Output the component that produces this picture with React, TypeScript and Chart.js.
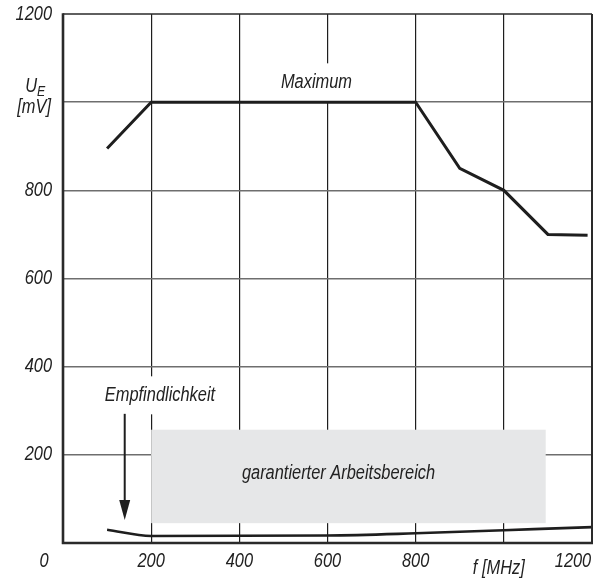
import React, { useEffect, useRef } from "react";
import { Chart, registerables } from "chart.js";

Chart.register(...registerables);

// ---- data ----
const maxX = [100, 200, 800, 900, 1000, 1100, 1190];
const maxY = [895, 1000, 1000, 850, 800, 700, 698];
const sensX = [100, 200, 600, 800, 1000, 1200];
const sensY = [30, 16, 17, 22, 29, 36];

const xTickValues = [0, 200, 400, 600, 800, 1000, 1200];
const xTickLabels = ["0", "200", "400", "600", "800", "f [MHz]", "1200"];
const yTickValues = [200, 400, 600, 800, 1000, 1200];
const yTickLabels = ["200", "400", "600", "800", "U_E [mV]", "1200"];

const boxRange = { x0: 200, x1: 1095, y0: 45, y1: 257 };
const boxLabel = "garantierter Arbeitsbereich";
const maxLabel = { text: "Maximum", x: 575, y: 1045 };
const sensLabel = { text: "Empfindlichkeit", x: 220, y: 335 };
const arrow = { x: 140, yFrom: 293, yTo: 52 };

const FONT = '"Liberation Sans", Arimo, Arial, sans-serif';
const F = (s: number) => `italic ${s}px ${FONT}`;
const TXT = "#222222";
const SX = 0.82;

function txt(ctx: any, s: string, x: number, y: number, align: string, size = 20) {
  ctx.save();
  ctx.font = F(size);
  ctx.textBaseline = "middle";
  ctx.textAlign = "left";
  const w = ctx.measureText(s).width * SX;
  let left = x;
  if (align === "center") left = x - w / 2;
  else if (align === "right") left = x - w;
  ctx.translate(left, y);
  ctx.scale(SX, 1);
  ctx.fillText(s, 0, 0);
  ctx.restore();
  return w;
}

const decor = {
  id: "decor",
  beforeDatasetsDraw(chart: any) {
    const { ctx } = chart;
    const xs = chart.scales.x;
    const ys = chart.scales.y;
    ctx.save();
    // grey box
    const bx0 = xs.getPixelForValue(boxRange.x0);
    const bx1 = xs.getPixelForValue(boxRange.x1);
    const by0 = ys.getPixelForValue(boxRange.y1);
    const by1 = ys.getPixelForValue(boxRange.y0);
    ctx.fillStyle = "#e6e7e8";
    ctx.fillRect(bx0, by0, bx1 - bx0, by1 - by0);
    ctx.fillStyle = TXT;
    txt(ctx, boxLabel, xs.getPixelForValue(625), ys.getPixelForValue(158), "center");

    // labels with white background
    const drawLab = (l: any, pad: number, padY: number) => {
      const px = xs.getPixelForValue(l.x);
      const py = ys.getPixelForValue(l.y);
      ctx.font = F(20);
      const w = ctx.measureText(l.text).width * SX;
      ctx.fillStyle = "#ffffff";
      ctx.fillRect(px - w / 2 - pad, py - padY, w + 2 * pad, padY * 2);
      ctx.fillStyle = TXT;
      txt(ctx, l.text, px, py, "center");
    };
    drawLab(maxLabel, 8, 19);
    drawLab(sensLabel, 6, 19);

    // arrow
    const ax = xs.getPixelForValue(arrow.x);
    const ay0 = ys.getPixelForValue(arrow.yFrom);
    const ay1 = ys.getPixelForValue(arrow.yTo);
    ctx.strokeStyle = "#1e1e1e";
    ctx.lineWidth = 2;
    ctx.beginPath();
    ctx.moveTo(ax, ay0);
    ctx.lineTo(ax, ay1 - 15);
    ctx.stroke();
    ctx.fillStyle = "#1e1e1e";
    ctx.beginPath();
    ctx.moveTo(ax - 5.5, ay1 - 20);
    ctx.lineTo(ax + 5.5, ay1 - 20);
    ctx.lineTo(ax, ay1);
    ctx.closePath();
    ctx.fill();

    ctx.restore();
  },
  afterDraw(chart: any) {
    const { ctx, chartArea: a } = chart;
    const xs = chart.scales.x;
    const ys = chart.scales.y;
    ctx.save();
    // frame
    ctx.strokeStyle = "#2a2a2a";
    ctx.lineWidth = 1.6;
    ctx.beginPath();
    ctx.moveTo(a.left, a.top);
    ctx.lineTo(a.right, a.top);
    ctx.stroke();
    ctx.lineWidth = 2;
    ctx.beginPath();
    ctx.moveTo(a.right, a.top);
    ctx.lineTo(a.right, a.bottom);
    ctx.stroke();
    ctx.lineWidth = 2.6;
    ctx.beginPath();
    ctx.moveTo(a.left, a.top - 0.8);
    ctx.lineTo(a.left, a.bottom + 1);
    ctx.moveTo(a.left - 1.2, a.bottom);
    ctx.lineTo(a.right + 1, a.bottom);
    ctx.stroke();

    // tick labels
    ctx.fillStyle = TXT;
    yTickValues.forEach((v, i) => {
      const py = ys.getPixelForValue(v);
      const lab = yTickLabels[i];
      if (lab.startsWith("U_E")) {
        txt(ctx, "U", 37, py - 16, "right");
        txt(ctx, "E", 37, py - 10, "left", 15);
        txt(ctx, lab.slice(4), 51, py + 5, "right");
      } else {
        txt(ctx, lab, 52, py, "right");
      }
    });
    xTickValues.forEach((v, i) => {
      const px = xs.getPixelForValue(v);
      const lab = xTickLabels[i];
      let dx = 0;
      let dy = 0;
      if (v === 0) dx = -19;
      if (v === 1200) dx = -19;
      if (lab.startsWith("f")) { dx = -5; dy = 7; }
      txt(ctx, lab, px + dx, 561 + dy, "center");
    });
    ctx.restore();
  },
};

export default function App() {
  const ref = useRef<HTMLCanvasElement | null>(null);
  useEffect(() => {
    document.body.style.margin = "0";
    const c = ref.current!;
    const chart = new Chart(c, {
      type: "line",
      data: {
        datasets: [
          {
            data: maxX.map((x, i) => ({ x, y: maxY[i] })),
            borderColor: "#1e1e1e",
            borderWidth: 3,
            pointRadius: 0,
            fill: false,
            tension: 0,
          },
          {
            data: sensX.map((x, i) => ({ x, y: sensY[i] })),
            borderColor: "#1e1e1e",
            borderWidth: 2.6,
            pointRadius: 0,
            fill: false,
            tension: 0.3,
            cubicInterpolationMode: "monotone",
          },
        ],
      },
      options: {
        responsive: false,
        animation: false,
        layout: { padding: { left: 63, top: 14, right: 3, bottom: 38 } },
        plugins: { legend: { display: false }, tooltip: { enabled: false } },
        scales: {
          x: {
            type: "linear",
            min: 0,
            max: 1200,
            ticks: { display: false, stepSize: 200 },
            border: { display: false },
            grid: {
              drawTicks: false,
              color: (ctx: any) =>
                ctx.tick && (ctx.tick.value === 0 || ctx.tick.value === 1200) ? "rgba(0,0,0,0)" : "#1e1e1e",
              lineWidth: 1.2,
            },
          },
          y: {
            type: "linear",
            min: 0,
            max: 1200,
            ticks: { display: false, stepSize: 200 },
            border: { display: false },
            grid: {
              drawTicks: false,
              color: (ctx: any) =>
                ctx.tick && (ctx.tick.value === 0 || ctx.tick.value === 1200) ? "rgba(0,0,0,0)" : "#6e6e6e",
              lineWidth: 1.4,
            },
          },
        },
      },
      plugins: [decor],
    });
    return () => chart.destroy();
  }, []);
  return (
    <div style={{ position: "absolute", left: 0, top: 0, background: "#fff" }}>
      <canvas ref={ref} width={595} height={581} style={{ display: "block" }} />
    </div>
  );
}
